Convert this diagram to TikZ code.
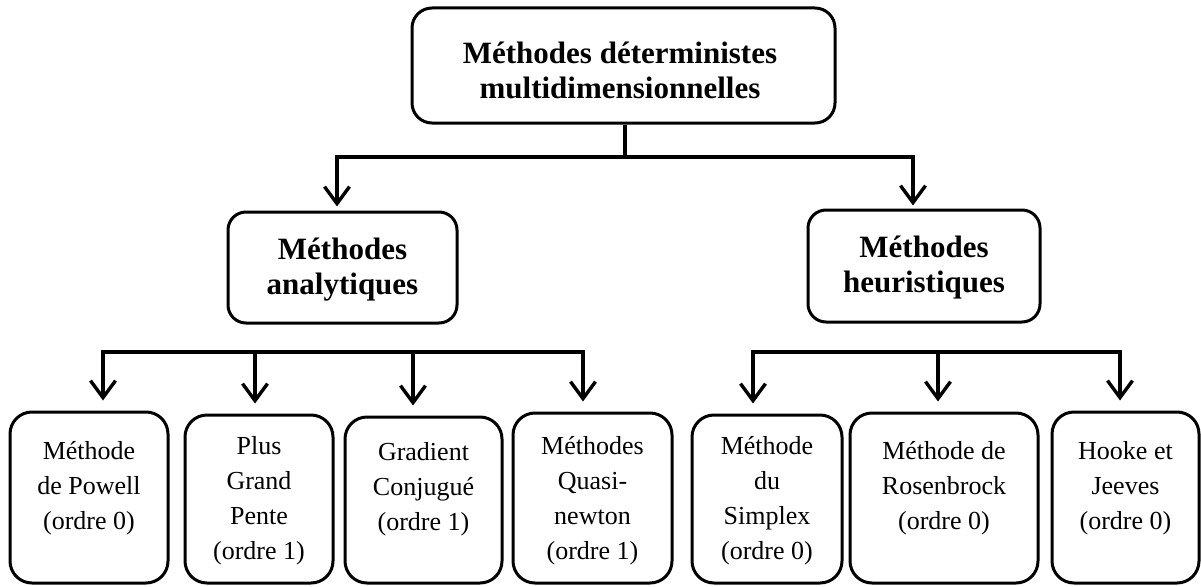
\documentclass[tikz,border=0pt]{standalone}
\usepackage{fontspec}
\setmainfont{Liberation Serif}
\usetikzlibrary{arrows.meta}

\tikzset{
  box/.style={draw, line width=3pt, inner sep=0pt, rounded corners=#1},
  box/.default=22pt,
  bigtext/.style={align=center, font=\bfseries\fontsize{31}{35}\selectfont},
  smalltext/.style={align=center, font=\fontsize{26}{35}\selectfont},
  wire/.style={line width=3.4pt, line join=miter},
  arr/.style={wire, -{Straight Barb[length=17pt, width=25pt]}, shorten >=#1},
  arr/.default=10pt
}

\begin{document}
\begin{tikzpicture}[x=1pt, y=-1pt]
\useasboundingbox[fill=white] (0,0) rectangle (1201,586);

% --- root ---
\node[box=20pt, minimum width=423pt, minimum height=115pt] (root) at (623.5,65.5) {};
\node[bigtext] (rootT) at (620,70) {Méthodes déterministes\\multidimensionnelles};

% --- second level ---
\node[box=18pt, minimum width=229pt, minimum height=111pt] (ana) at (342.5,267.5) {};
\node[bigtext] (anaT) at (342.5,270) {Méthodes\\analytiques};
\node[box=18pt, minimum width=232pt, minimum height=112pt] (heu) at (924,266) {};
\node[bigtext] (heuT) at (924,268) {Méthodes\\heuristiques};

% --- leaves ---
\node[box, minimum width=158pt, minimum height=171pt] (b1) at (89,497.5) {};
\node[box, minimum width=148pt, minimum height=168pt] (b2) at (259,499) {};
\node[box, minimum width=157pt, minimum height=166pt] (b3) at (423.5,500) {};
\node[box, minimum width=159pt, minimum height=170pt] (b4) at (592.5,498) {};
\node[box, minimum width=150pt, minimum height=168pt] (b5) at (767,499) {};
\node[box, minimum width=188pt, minimum height=170pt] (b6) at (944,498) {};
\node[box, minimum width=147pt, minimum height=171pt] (b7) at (1125.5,497.5) {};

\node[smalltext] (t1) at (89,488.5) {Méthode\\de Powell\\(ordre 0)};
\node[smalltext] (t2) at (259,500.5) {Plus\\Grand\\Pente\\(ordre 1)};
\node[smalltext] (t3) at (423.5,489) {Gradient\\Conjugué\\(ordre 1)};
\node[smalltext] (t4) at (592.5,500.5) {Méthodes\\Quasi-\\newton\\(ordre 1)};
\node[smalltext] (t5) at (767,500.5) {Méthode\\du\\Simplex\\(ordre 0)};
\node[smalltext] (t6) at (944,488.5) {Méthode de\\Rosenbrock\\(ordre 0)};
\node[smalltext] (t7) at (1125.5,488.5) {Hooke et\\Jeeves\\(ordre 0)};

% --- root bus ---
\coordinate (rootJ) at (625,157);
\draw[wire] (rootJ |- root.south) -- (rootJ);
\coordinate (anaP) at (337,157);
\coordinate (heuP) at (913,157);
\draw[arr=4pt] (rootJ) -| (anaP |- ana.north);
\draw[arr=3pt] (rootJ) -| (heuP |- heu.north);

% --- analytic bus ---
\coordinate (p1) at (103,352);
\coordinate (p2) at (255,352);
\coordinate (p3) at (413,352);
\coordinate (p4) at (583,352);
\draw[arr] (p2) -| (p1 |- b1.north);
\draw[arr] (p3) -| (p4 |- b4.north);
\draw[wire] (p2) -- (p3);
\draw[arr] (p2) -- (p2 |- b2.north);
\draw[arr] (p3) -- (p3 |- b3.north);

% --- heuristic bus ---
\coordinate (p5) at (753,352);
\coordinate (p6) at (938,352);
\coordinate (p7) at (1120,352);
\draw[arr] (p6) -| (p5 |- b5.north);
\draw[arr] (p6) -| (p7 |- b7.north);
\draw[arr] (p6) -- (p6 |- b6.north);
\end{tikzpicture}
\end{document}
